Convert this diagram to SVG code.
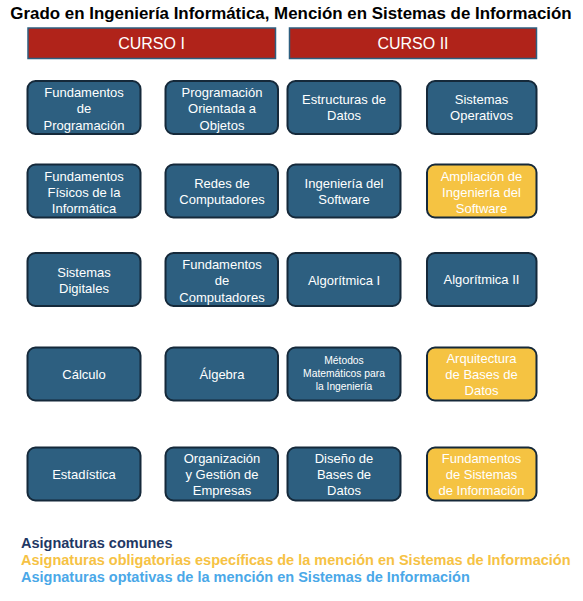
<svg xmlns="http://www.w3.org/2000/svg" width="583" height="601" viewBox="0 0 583 601">
<style>
text{font-family:"Liberation Sans",Arial,sans-serif}
.title{font-size:16.9px;font-weight:bold;fill:#000}
.hdr{fill:#B0231A;stroke:#2E5F80;stroke-width:1.5}
.hdrt{font-size:16px;fill:#fff}
.n rect{stroke:#15293A;stroke-width:2}
.b rect{fill:#2D5F80}
.y rect{fill:#F5C342}
.n text{font-size:13px;fill:#fff;text-anchor:middle}
.n text.s{font-size:10.3px}
.leg{font-size:14.5px;font-weight:bold}
</style>
<rect width="583" height="601" fill="#fff"/>
<text class="title" x="291" y="19" text-anchor="middle">Grado en Ingeniería Informática, Mención en Sistemas de Información</text>
<g id="curso1"><rect class="hdr" x="28" y="28" width="247.5" height="30.5"/><text class="hdrt" x="151.5" y="49" text-anchor="middle">CURSO I</text></g>
<g id="curso2"><rect class="hdr" x="289.5" y="28" width="247" height="30.5"/><text class="hdrt" x="413" y="49" text-anchor="middle">CURSO II</text></g>

<g id="fund-prog" class="n b"><rect x="27.5" y="81" width="113" height="53" rx="8"/><text x="84" y="97">Fundamentos</text><text x="84" y="113">de</text><text x="84" y="129.5">Programación</text></g>
<g id="poo" class="n b"><rect x="165.5" y="81" width="112.5" height="53" rx="8"/><text x="222" y="97">Programación</text><text x="222" y="113">Orientada a</text><text x="222" y="129.5">Objetos</text></g>
<g id="estructuras" class="n b"><rect x="287.5" y="81" width="113" height="53" rx="8"/><text x="344" y="104">Estructuras de</text><text x="344" y="120">Datos</text></g>
<g id="so" class="n b"><rect x="427" y="81" width="109.5" height="53" rx="8"/><text x="481.5" y="104">Sistemas</text><text x="481.5" y="120">Operativos</text></g>

<g id="fund-fis" class="n b"><rect x="27.5" y="164.5" width="113" height="53" rx="8"/><text x="84" y="180.5">Fundamentos</text><text x="84" y="196.5">Físicos de la</text><text x="84" y="213">Informática</text></g>
<g id="redes" class="n b"><rect x="165.5" y="164.5" width="112.5" height="53" rx="8"/><text x="222" y="188">Redes de</text><text x="222" y="204">Computadores</text></g>
<g id="ing-sw" class="n b"><rect x="287.5" y="164.5" width="113" height="53" rx="8"/><text x="344" y="188">Ingeniería del</text><text x="344" y="204">Software</text></g>
<g id="ampl-ing-sw" class="n y"><rect x="427" y="164.5" width="109.5" height="53" rx="8"/><text x="481.5" y="180.5">Ampliación de</text><text x="481.5" y="196.5">Ingeniería del</text><text x="481.5" y="213">Software</text></g>

<g id="sist-dig" class="n b"><rect x="27.5" y="253" width="113" height="53" rx="8"/><text x="84" y="277">Sistemas</text><text x="84" y="293">Digitales</text></g>
<g id="fund-comp" class="n b"><rect x="165.5" y="253" width="112.5" height="53" rx="8"/><text x="222" y="269">Fundamentos</text><text x="222" y="285">de</text><text x="222" y="301.5">Computadores</text></g>
<g id="algo1" class="n b"><rect x="287.5" y="253" width="113" height="53" rx="8"/><text x="344" y="284.5">Algorítmica I</text></g>
<g id="algo2" class="n b"><rect x="427" y="253" width="109.5" height="53" rx="8"/><text x="481.5" y="283.5">Algorítmica II</text></g>

<g id="calculo" class="n b"><rect x="27.5" y="347.5" width="113" height="53" rx="8"/><text x="84" y="379">Cálculo</text></g>
<g id="algebra" class="n b"><rect x="165.5" y="347.5" width="112.5" height="53" rx="8"/><text x="222" y="379">Álgebra</text></g>
<g id="metodos" class="n b"><rect x="287.5" y="347.5" width="113" height="53" rx="8"/><text class="s" x="344" y="364">Métodos</text><text class="s" x="344" y="377">Matemáticos para</text><text class="s" x="344" y="390">la Ingeniería</text></g>
<g id="arq-bd" class="n y"><rect x="427" y="347.5" width="109.5" height="53" rx="8"/><text x="481.5" y="363">Arquitectura</text><text x="481.5" y="379">de Bases de</text><text x="481.5" y="395">Datos</text></g>

<g id="estadistica" class="n b"><rect x="27.5" y="447.5" width="113" height="53" rx="8"/><text x="84" y="479">Estadística</text></g>
<g id="org-gestion" class="n b"><rect x="165.5" y="447.5" width="112.5" height="53" rx="8"/><text x="222" y="462.5">Organización</text><text x="222" y="478.5">y Gestión de</text><text x="222" y="495">Empresas</text></g>
<g id="diseno-bd" class="n b"><rect x="287.5" y="447.5" width="113" height="53" rx="8"/><text x="344" y="462.5">Diseño de</text><text x="344" y="478.5">Bases de</text><text x="344" y="495">Datos</text></g>
<g id="fund-si" class="n y"><rect x="427" y="447.5" width="109.5" height="53" rx="8"/><text x="481.5" y="462.5">Fundamentos</text><text x="481.5" y="478.5">de Sistemas</text><text x="481.5" y="495">de Información</text></g>

<g id="connectors"></g>

<g id="legend">
<text class="leg" x="21" y="548" fill="#1F3864">Asignaturas comunes</text>
<text class="leg" x="21" y="565" fill="#F6C244">Asignaturas obligatorias específicas de la mención en Sistemas de Información</text>
<text class="leg" x="21" y="582" fill="#4AA8E8">Asignaturas optativas de la mención en Sistemas de Información</text>
</g>
</svg>
